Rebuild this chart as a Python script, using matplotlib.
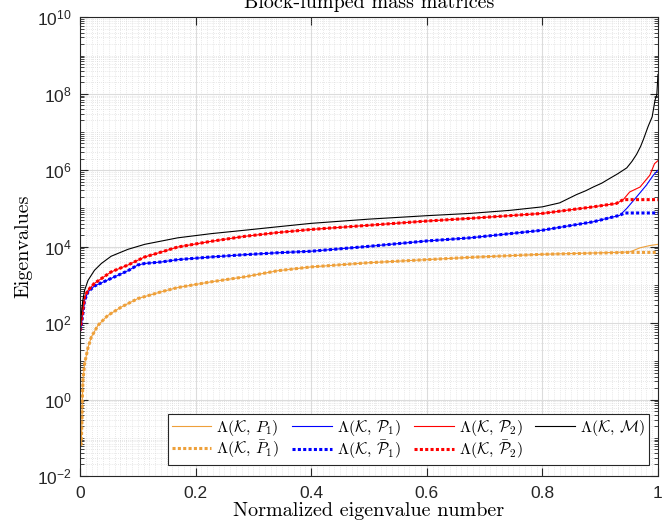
import matplotlib
matplotlib.use('Agg')
import numpy as np
from matplotlib import pyplot as plt
from matplotlib.ticker import FixedLocator, MultipleLocator, LogLocator, NullFormatter

# Lambda(K, M)
x_m = [0, 0.002, 0.005, 0.008, 0.014, 0.025, 0.037, 0.054, 0.083, 0.112, 0.169, 0.227,
       0.285, 0.342, 0.4, 0.5, 0.6, 0.675, 0.744, 0.8, 0.83, 0.859, 0.875, 0.888, 0.903,
       0.916, 0.93, 0.946, 0.955, 0.963, 0.97, 0.975, 0.983, 0.99, 0.995, 0.998, 1.0]
ev_m = [66, 158, 398, 724, 1318, 2399, 3631, 5623, 8511, 1.15e4, 1.70e4, 2.19e4,
        2.69e4, 3.31e4, 4.07e4, 5.25e4, 6.46e4, 7.41e4, 8.91e4, 1.10e5, 1.40e5, 2.3e5,
        2.9e5, 3.63e5, 4.6e5, 6.03e5, 8.0e5, 1.15e6, 1.7e6, 2.6e6, 4.2e6, 6.5e6, 1.4e7,
        2.5e7, 6.9e7, 9.3e7, 3.2e8]

# Lambda(K, calP2) and its bar version
x_p2 = [0, 0.002, 0.008, 0.014, 0.025, 0.054, 0.083, 0.112, 0.141, 0.169, 0.227, 0.285,
        0.342, 0.4, 0.5, 0.6, 0.675, 0.8, 0.888, 0.928, 0.94, 0.951, 0.969, 0.986, 0.994, 1.0]
ev_p2 = [63, 100, 490, 724, 1096, 2188, 3311, 5370, 7244, 9772, 1.38e4, 1.86e4,
         2.34e4, 2.82e4, 3.63e4, 4.68e4, 5.50e4, 7.41e4, 1.10e5, 1.35e5, 1.70e5, 2.69e5,
         3.63e5, 7.41e5, 1.48e6, 1.78e6]
x_p2b = [0, 0.002, 0.008, 0.014, 0.025, 0.054, 0.083, 0.112, 0.141, 0.169, 0.227, 0.285,
         0.342, 0.4, 0.5, 0.6, 0.675, 0.8, 0.888, 0.928, 0.94, 0.97, 1.0]
ev_p2b = [63, 100, 490, 724, 1096, 2188, 3311, 5370, 7244, 9772, 1.38e4, 1.86e4,
          2.34e4, 2.82e4, 3.63e4, 4.68e4, 5.50e4, 7.41e4, 1.10e5, 1.35e5, 1.70e5, 1.70e5, 1.70e5]

# Lambda(K, calP1) and its bar version
x_p1 = [0, 0.002, 0.008, 0.014, 0.025, 0.054, 0.083, 0.1, 0.112, 0.141, 0.169, 0.227,
        0.285, 0.342, 0.4, 0.5, 0.6, 0.675, 0.8, 0.888, 0.934, 0.946, 0.963, 0.98, 0.992, 1.0]
ev_p1 = [63, 79, 398, 661, 933, 1479, 2344, 3311, 3631, 3981, 4571, 5370,
         6166, 6918, 7586, 1.02e4, 1.41e4, 1.70e4, 2.69e4, 4.47e4, 6.61e4, 1.0e5, 2.0e5,
         4.07e5, 7.41e5, 1.0e6]
x_p1b = [0, 0.002, 0.008, 0.014, 0.025, 0.054, 0.083, 0.1, 0.112, 0.141, 0.169, 0.227,
         0.285, 0.342, 0.4, 0.5, 0.6, 0.675, 0.8, 0.888, 0.934, 0.942, 0.97, 1.0]
ev_p1b = [63, 79, 398, 661, 933, 1479, 2344, 3311, 3631, 3981, 4571, 5370,
          6166, 6918, 7586, 1.02e4, 1.41e4, 1.70e4, 2.69e4, 4.47e4, 6.61e4, 7.6e4, 7.6e4, 7.6e4]

# Lambda(K, P1) and its bar version
x_q1 = [0.001, 0.0023, 0.0035, 0.004, 0.0052, 0.008, 0.014, 0.0196, 0.031, 0.048, 0.0715,
        0.1, 0.141, 0.169, 0.227, 0.285, 0.342, 0.4, 0.5, 0.6, 0.675, 0.8, 0.951, 0.969,
        0.986, 1.0]
ev_q1 = [0.063, 0.069, 0.28, 0.95, 3.2, 8.7, 23, 43, 87, 158, 263,
         437, 661, 851, 1202, 1622, 2344, 2951, 3802, 4571, 5248, 6310, 7244, 9333,
         1.07e4, 1.15e4]
x_q1b = [0.001, 0.0023, 0.0035, 0.004, 0.0052, 0.008, 0.014, 0.0196, 0.031, 0.048, 0.0715,
         0.1, 0.141, 0.169, 0.227, 0.285, 0.342, 0.4, 0.5, 0.6, 0.675, 0.8, 0.951, 0.975, 1.0]
ev_q1b = [0.063, 0.069, 0.28, 0.95, 3.2, 8.7, 23, 43, 87, 158, 263,
          437, 661, 851, 1202, 1622, 2344, 2951, 3802, 4571, 5248, 6310, 7080, 7080, 7080]

x_ticks = [0, 0.2, 0.4, 0.6, 0.8, 1]
x_ticklabels = ['0', '0.2', '0.4', '0.6', '0.8', '1']
y_exps = [-2, 0, 2, 4, 6, 8, 10]

orange = '#EEA03A'
axcol = '#262626'

plt.rcParams['font.family'] = ['Liberation Sans', 'DejaVu Sans']
plt.rcParams['mathtext.fontset'] = 'cm'

fig = plt.figure(figsize=(6.62, 5.28), dpi=100)
ax = fig.add_axes([0.1208, 0.0985, 0.8731, 0.8687])

dot = (0, (1, 0.75))
ax.plot(x_q1, ev_q1, color=orange, lw=0.8, label=r'$\Lambda(\mathcal{K},\,P_1)$')
ax.plot(x_q1b, ev_q1b, color=orange, lw=2.2, ls=dot, label=r'$\Lambda(\mathcal{K},\,\bar{P}_1)$')
ax.plot(x_p1, ev_p1, color='#0000ff', lw=0.8, label=r'$\Lambda(\mathcal{K},\,\mathcal{P}_1)$')
ax.plot(x_p1b, ev_p1b, color='#0000ff', lw=2.2, ls=dot,
        label=r'$\Lambda(\mathcal{K},\,\bar{\mathcal{P}}_1)$')
ax.plot(x_p2, ev_p2, color='#ff0000', lw=0.8, label=r'$\Lambda(\mathcal{K},\,\mathcal{P}_2)$')
ax.plot(x_p2b, ev_p2b, color='#ff0000', lw=2.2, ls=dot,
        label=r'$\Lambda(\mathcal{K},\,\bar{\mathcal{P}}_2)$')
ax.plot(x_m, ev_m, color='black', lw=0.8, label=r'$\Lambda(\mathcal{K},\,\mathcal{M})$')

ax.set_yscale('log')
ax.set_xlim(0, 1)
ax.set_ylim(1e-2, 1e10)

ax.xaxis.set_major_locator(FixedLocator(x_ticks))
ax.set_xticklabels(x_ticklabels)
ax.xaxis.set_minor_locator(MultipleLocator(0.01))
ax.yaxis.set_major_locator(FixedLocator([10.0 ** e for e in y_exps]))
ax.set_yticklabels([r'$\mathregular{10^{%d}}$' % e for e in y_exps])
ax.yaxis.set_minor_locator(LogLocator(base=10, subs=np.arange(1, 10), numticks=100))
ax.yaxis.set_minor_formatter(NullFormatter())

ax.tick_params(which='both', direction='in', top=True, right=True, colors=axcol,
               labelsize=12.5)
ax.tick_params(axis='x', which='major', length=6, pad=7)
ax.tick_params(axis='x', which='minor', length=0)
ax.tick_params(axis='y', which='major', length=6, pad=6)
ax.tick_params(axis='y', which='minor', length=3)
for s in ax.spines.values():
    s.set_color(axcol)
    s.set_linewidth(0.8)

ax.grid(which='major', color='#dcdcdc', lw=0.8, ls='-')
ax.grid(which='minor', color='#d2d2d2', lw=0.5, ls=(0, (1, 2)))
ax.set_axisbelow(True)

ax.set_xlabel('Normalized eigenvalue number', fontfamily='cmr10', fontsize=14.5, labelpad=1)
ax.set_ylabel('Eigenvalues', fontfamily='cmr10', fontsize=14.5, labelpad=3)
ax.set_title('Block-lumped mass matrices', fontfamily='cmr10', fontsize=14.5, pad=7)

leg = ax.legend(ncol=4, loc='lower right', bbox_to_anchor=(0.9844, 0.024), borderaxespad=0,
                fontsize=11.5, fancybox=False, framealpha=1, edgecolor=axcol,
                handlelength=2.5, columnspacing=0.8, handletextpad=0.3, labelspacing=0.05,
                borderpad=0.25)
leg.get_frame().set_linewidth(0.8)

fig.savefig('out.png', dpi=100)
